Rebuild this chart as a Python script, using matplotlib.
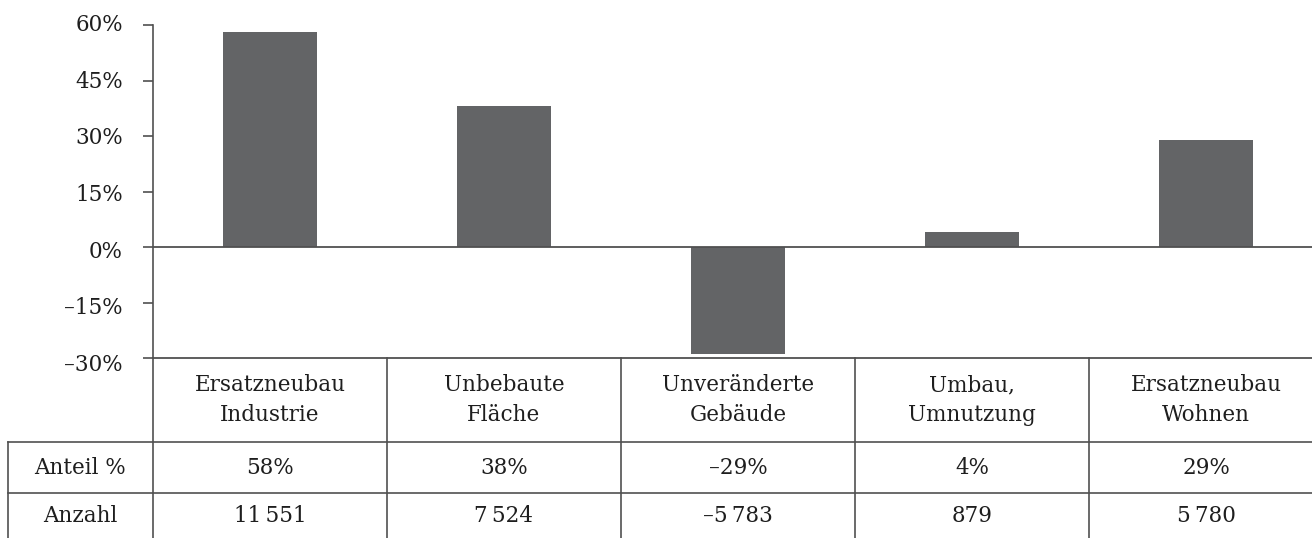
import matplotlib
matplotlib.use("Agg")
import matplotlib.pyplot as plt
import matplotlib.transforms as mtransforms
from matplotlib.ticker import FixedLocator

plt.rcParams["font.family"] = ["DejaVu Serif"]

categories = ["Ersatzneubau\nIndustrie", "Unbebaute\nFläche", "Unveränderte\nGebäude",
              "Umbau,\nUmnutzung", "Ersatzneubau\nWohnen"]
share_pct = [58, 38, -29, 4, 29]
counts = [11551, 7524, -5783, 879, 5780]
row_labels = ["Anteil %", "Anzahl"]
y_ticks = [-30, -15, 0, 15, 30, 45, 60]

BAR = "#636466"
LINE = "#505050"
TEXT = "#1e1e1e"
FS = 15.5

W, H = 1312, 538
fig = plt.figure(figsize=(W / 100, H / 100), dpi=100)

# layout in pixels
left_px, top_px, base_px = 153, 25, 358
col_px = 234
x0 = -0.5
x1 = x0 + (W - left_px) / col_px

ax = fig.add_axes([left_px / W, 1 - base_px / H, 1 - left_px / W, (base_px - top_px) / H])
pos = list(range(len(categories)))
ax.bar(pos, share_pct, width=0.4, color=BAR, zorder=2)
ax.axhline(0, color=LINE, lw=1.3, zorder=3)
ax.set_xlim(x0, x1)
ax.set_ylim(-30, 60)
ax.yaxis.set_major_locator(FixedLocator(y_ticks))
ax.tick_params(axis="y", length=7.5, width=1.2, color=LINE, labelleft=False)
ax.set_xticks([])
for s in ["top", "right"]:
    ax.spines[s].set_visible(False)
ax.spines["left"].set_color(LINE)
ax.spines["left"].set_linewidth(1.2)
ax.spines["bottom"].set_color(LINE)
ax.spines["bottom"].set_linewidth(1.3)

# y labels, drifting slightly downwards towards the bottom of the scale
ylab_tr = mtransforms.blended_transform_factory(ax.transAxes, ax.transData)
for v in y_ticks:
    drift = (60 - v) / 90 * 7 / 100
    tr = ylab_tr + mtransforms.ScaledTranslation(-30 / 100, -drift, fig.dpi_scale_trans)
    ax.text(0, v, f"{v}%".replace("-", "–"), transform=tr, ha="right", va="center",
            fontsize=FS, color=TEXT, clip_on=False)

# table under the bars, sharing the column positions
tab = fig.add_axes([0, 0, 1, 1 - base_px / H])
tx0 = x0 - left_px / col_px
tab.set_xlim(tx0, x1)
tab.set_ylim(H - base_px, 0)
tab.axis("off")
head_h, row1, row2 = 84, 135, H - base_px
lab_left = tx0 + 8 / col_px

# vertical separators
for i in range(len(categories) + 1):
    tab.plot([i - 0.5, i - 0.5], [0, row2], color=LINE, lw=1.2, clip_on=False)
tab.plot([lab_left, lab_left], [head_h, row2], color=LINE, lw=1.2)
# horizontal separators
for yv in (head_h, row1):
    tab.plot([lab_left, x1], [yv, yv], color=LINE, lw=1.2)

for i, c in enumerate(categories):
    tab.text(i, head_h / 2, c, ha="center", va="center", fontsize=FS, color=TEXT,
             linespacing=1.45)
    tab.text(i, (head_h + row1) / 2, f"{share_pct[i]}%".replace("-", "–"),
             ha="center", va="center", fontsize=FS, color=TEXT)
    cnt = f"{counts[i]:,}".replace(",", "\u2009").replace("-", "–")
    tab.text(i, (row1 + row2) / 2, cnt, ha="center", va="center", fontsize=FS, color=TEXT)

lab_x = (lab_left - 0.5) / 2
tab.text(lab_x, (head_h + row1) / 2, row_labels[0], ha="center", va="center",
         fontsize=FS, color=TEXT)
tab.text(lab_x, (row1 + row2) / 2, row_labels[1], ha="center", va="center",
         fontsize=FS, color=TEXT)

fig.savefig("out.png", dpi=100)
